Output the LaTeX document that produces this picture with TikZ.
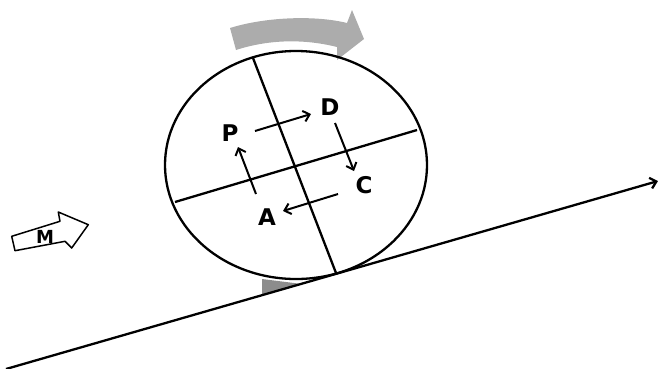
\documentclass[tikz,border=0pt]{standalone}
\usepackage{fontspec}
\setmainfont{DejaVu Sans}
\usetikzlibrary{arrows.meta,shapes.geometric}
\begin{document}
\begin{tikzpicture}[x=1pt,y=-1pt,
  lbl/.style={font=\fontsize{23}{23}\selectfont\bfseries, inner sep=0pt},
  small arrow/.style={line width=2pt, -{Straight Barb[length=6pt,width=11pt]}},
  rim/.style={line width=2.3pt},
  spin/.style={fill=gray!65},
  chock/.style={fill=gray!90},
  hollow arrow/.style={draw, line width=1.5pt, fill=white, line join=round}]
\useasboundingbox (0,0) rectangle (658,368);
% rotation arrow
\fill[spin] (230,28) .. controls (265,17) and (315,15) .. (347,23) -- (352,10) -- (364,39) -- (337,60) -- (337,47) .. controls (305,39) and (270,39) .. (236,50) -- cycle;
% chock
\fill[chock] (262,279) -- (262,295) -- (302,284) -- cycle;
% wheel
\node (wheel) [draw, rim, ellipse, minimum width=262pt, minimum height=228pt, inner sep=0pt, outer sep=0pt] at (296,165) {};
\coordinate (t1) at (253,58);
\coordinate (b1) at (336,273);
\coordinate (l2) at (175,202);
\coordinate (r2) at (417,130);
\draw[rim] (t1) -- (b1);
\draw[rim] (l2) -- (r2);
% slope
\coordinate (s0) at (6,369);
\coordinate (s1) at (658,181);
\draw[line width=2.3pt, -{Straight Barb[length=6pt,width=11pt]}] (s0) -- (s1);
% letters
\node[lbl] (P) at (230,133) {P};
\node[lbl] (D) at (330,107) {D};
\node[lbl] (C) at (364,185) {C};
\node[lbl] (A) at (267,217) {A};
\coordinate (pd0) at (255,131); \coordinate (pd1) at (311,114);
\coordinate (dc0) at (335,123); \coordinate (dc1) at (354,171);
\coordinate (ca0) at (338,194); \coordinate (ca1) at (283,211);
\coordinate (ap0) at (256,194); \coordinate (ap1) at (238,147);
\draw[small arrow] (pd0) -- (pd1);
\draw[small arrow] (dc0) -- (dc1);
\draw[small arrow] (ca0) -- (ca1);
\draw[small arrow] (ap0) -- (ap1);
% M arrow
\draw[hollow arrow] (11.7,236.3) -- (60,221.3) -- (58.3,212) -- (88.3,224.7) -- (71.7,248) -- (65,241.3) -- (15,250.7) -- cycle;
\node[font=\fontsize{18}{18}\selectfont\bfseries, inner sep=0pt] (M) at (45,237) {M};
\end{tikzpicture}
\end{document}
